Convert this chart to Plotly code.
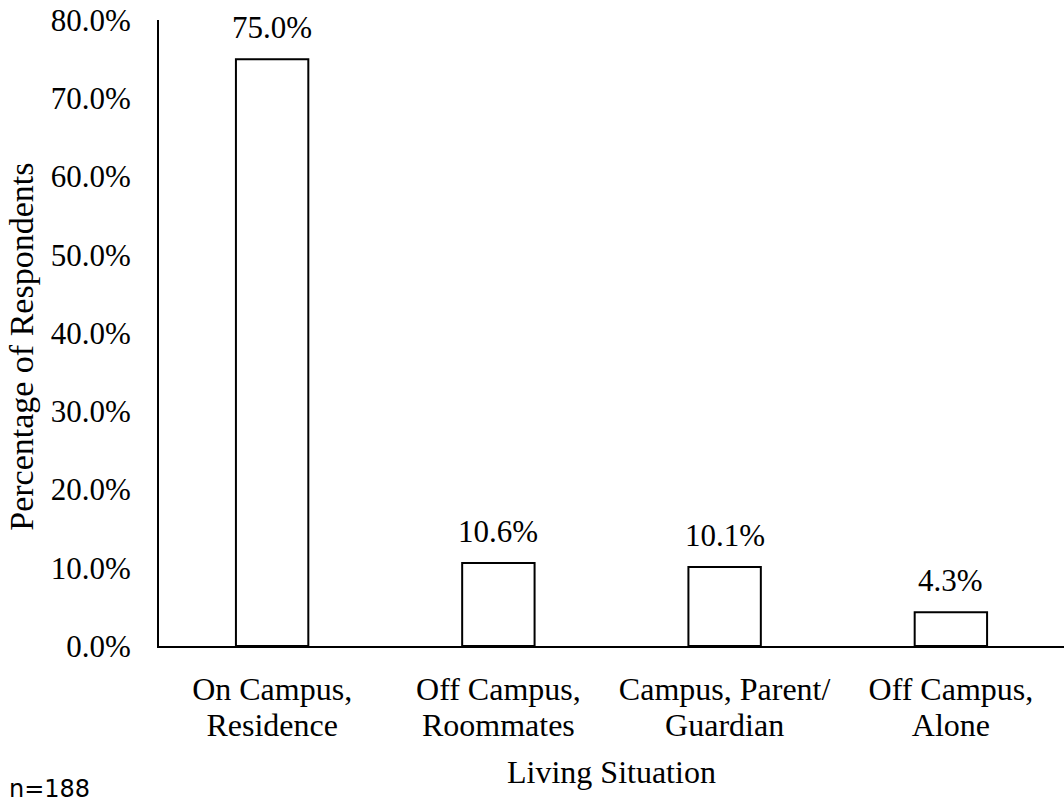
import plotly.graph_objects as go

categories = ["On Campus,<br>Residence", "Off Campus,<br>Roommates",
              "Campus, Parent/<br>Guardian", "Off Campus,<br>Alone"]
percentages = [75.0, 10.6, 10.1, 4.3]
y_ticks = [0, 10, 20, 30, 40, 50, 60, 70, 80]
y_tick_labels = [f"{v:.1f}%" for v in y_ticks]
sample_note = "n=188"

SERIF = "Liberation Serif, Times New Roman, serif"


def big(text, px=32):
    # wrap each line in a larger span so line spacing stays tight
    return "<br>".join(f"<span style='font-size:{px}px'>{part}</span>"
                       for part in text.split("<br>"))


fig = go.Figure(
    go.Bar(
        x=categories,
        y=percentages,
        width=0.32,
        marker=dict(color="white", line=dict(color="black", width=2)),
        showlegend=False,
    )
)

for cat, val in zip(categories, percentages):
    fig.add_annotation(
        x=cat, y=val, text=f"{val:.1f}%", showarrow=False,
        yanchor="bottom", yshift=12,
        font=dict(family=SERIF, size=31, color="black"),
    )

# axis titles
fig.add_annotation(
    xref="paper", yref="paper", x=0.5, y=-0.2013,
    xanchor="center", yanchor="middle", text="Living Situation", showarrow=False,
    font=dict(family=SERIF, size=32, color="black"),
)
fig.add_annotation(
    xref="paper", yref="paper", x=0, y=0.478, xshift=-137,
    xanchor="center", yanchor="middle", text="Percentage of Respondents",
    textangle=-90, showarrow=False,
    font=dict(family=SERIF, size=34, color="black"),
)

fig.add_annotation(
    xref="paper", yref="paper", x=0, y=0, xshift=-152, yshift=-159,
    xanchor="left", yanchor="bottom", text=sample_note, showarrow=False,
    font=dict(family="DejaVu Sans, sans-serif", size=24, color="black"),
)

fig.update_layout(
    width=1064, height=803,
    margin=dict(l=159, r=0, t=20, b=157),
    paper_bgcolor="white", plot_bgcolor="white",
    font=dict(family=SERIF, size=28, color="black"),
    xaxis=dict(
        showline=True, linecolor="black", linewidth=2,
        showgrid=False, ticks="", tickfont=dict(size=28),
        tickvals=categories, ticktext=[big(c) for c in categories],
        ticklabelstandoff=18,
    ),
    yaxis=dict(
        range=[0, 80], tickvals=y_ticks, ticktext=y_tick_labels,
        showline=True, linecolor="black", linewidth=2,
        showgrid=False, zeroline=False, ticks="",
        ticklabelstandoff=20, tickfont=dict(size=31),
    ),
)

fig.write_html("out.html")
